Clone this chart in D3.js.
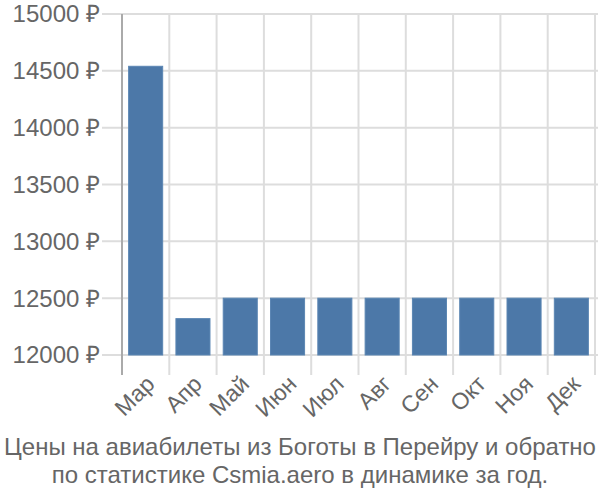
<!DOCTYPE html>
<html><head><meta charset="utf-8">
<script src="https://cdn.jsdelivr.net/npm/d3@7"></script>
<style>body{margin:0;background:#fff}svg{display:block}text{font-family:"Liberation Sans",Arial,sans-serif;fill:#666}</style>
</head><body><svg id="c" width="600" height="500"></svg>
<script>
const months = ["Мар","Апр","Май","Июн","Июл","Авг","Сен","Окт","Ноя","Дек"];
const prices = [14540,12320,12500,12500,12500,12500,12500,12500,12500,12500];
const yTicks = [12000,12500,13000,13500,14000,14500,15000];
const titleLines = ["Цены на авиабилеты из Боготы в Перейру и обратно","по статистике Csmia.aero в динамике за год."];

const svg = d3.select("#c");
const L = 122, R = 595, T = 14, B = 355;
const x = d3.scaleBand().domain(months).range([L, R]).paddingInner(0.28).paddingOuter(0.14);
const xg = d3.scaleBand().domain(months).range([L, R]);
const y = d3.scaleLinear().domain([12000, 15000]).range([B, T]);

svg.append("g").selectAll("line").data(yTicks).join("line")
  .attr("x1", 102).attr("x2", 598).attr("y1", d => y(d)).attr("y2", d => y(d))
  .attr("stroke", "#ddd").attr("stroke-width", 2);
svg.append("g").selectAll("line").data(months.slice(1).map(m => xg(m)).concat([R]))
  .join("line").attr("x1", d => d).attr("x2", d => d).attr("y1", T).attr("y2", 375)
  .attr("stroke", "#ddd").attr("stroke-width", 2);
svg.append("line").attr("x1", L).attr("x2", L).attr("y1", T).attr("y2", 375)
  .attr("stroke", "#aaa").attr("stroke-width", 2);
svg.append("g").selectAll("rect").data(months).join("rect")
  .attr("x", d => x(d)).attr("width", x.bandwidth())
  .attr("y", (d, i) => y(prices[i])).attr("height", (d, i) => B - y(prices[i]))
  .attr("fill", "#4c78a8").attr("stroke", "#5b86b3").attr("stroke-width", 1);
svg.append("g").selectAll("text").data(yTicks).join("text")
  .attr("x", 100).attr("y", d => y(d)).attr("dy", "0.35em")
  .attr("text-anchor", "end").style("font-size", "24px")
  .text(d => d + " ₽");
svg.append("g").selectAll("text").data(months).join("text")
  .attr("transform", d => `translate(${xg(d) + xg.bandwidth() / 2 - 1},${374}) rotate(-45)`)
  .attr("text-anchor", "end").attr("dy", "0.7em").style("font-size", "23px")
  .text(d => d);
svg.append("g").selectAll("text").data(titleLines).join("text")
  .attr("x", 300).attr("y", (d, i) => 455 + i * 28)
  .attr("text-anchor", "middle").style("font-size", "24px").text(d => d);
</script></body></html>
